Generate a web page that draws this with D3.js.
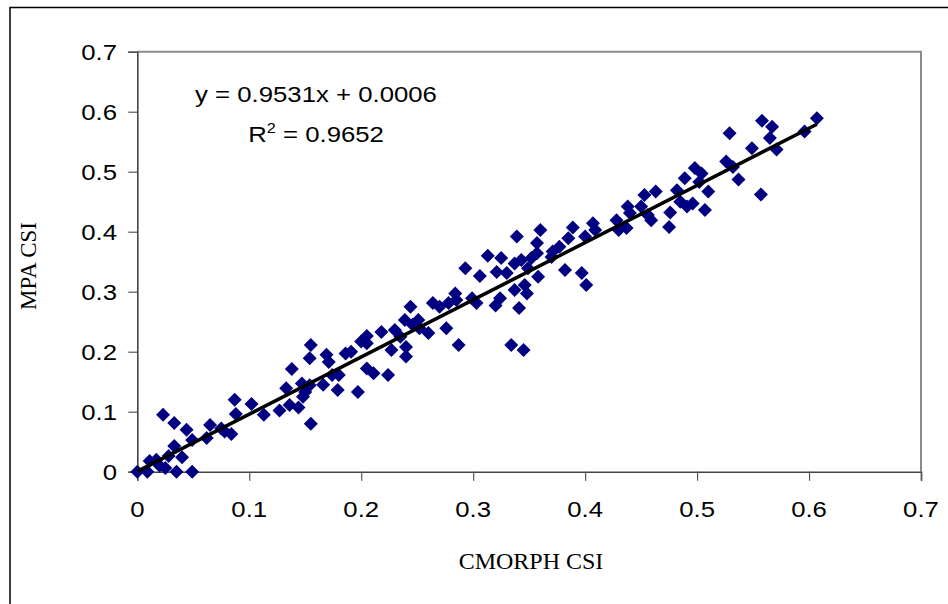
<!DOCTYPE html>
<html>
<head>
<meta charset="utf-8">
<script src="https://cdn.jsdelivr.net/npm/d3@7"></script>
<style>
  body { margin: 0; background: #fff; }
  svg { display: block; }
</style>
</head>
<body>
<svg id="chart" width="948" height="604"></svg>
<script>
// CSI pairs: CMORPH (x) against MPA (y)
const cmorphCsi = [
  0, 0.009, 0.011, 0.017, 0.023, 0.020, 0.025, 0.028, 0.033, 0.033, 0.035, 0.040, 0.044, 0.049, 0.049,
  0.062, 0.065, 0.075, 0.078, 0.084, 0.087, 0.088, 0.102,
  0.113, 0.127, 0.133, 0.136, 0.138, 0.144, 0.147, 0.148, 0.150, 0.154, 0.155, 0.154, 0.155, 0.166,
  0.169, 0.171, 0.174, 0.179, 0.180, 0.186, 0.191, 0.197, 0.200, 0.205, 0.205,
  0.205, 0.211, 0.218, 0.224, 0.227, 0.230, 0.235, 0.239, 0.240, 0.240, 0.244, 0.246, 0.251, 0.252,
  0.260, 0.264, 0.270, 0.276, 0.278, 0.284, 0.285, 0.287, 0.293, 0.299, 0.303, 0.306,
  0.313, 0.320, 0.321, 0.324, 0.325, 0.330, 0.334, 0.337, 0.337, 0.339, 0.341, 0.343, 0.345, 0.346,
  0.348, 0.349, 0.352, 0.357, 0.358, 0.357, 0.360, 0.370, 0.371, 0.377, 0.382, 0.385, 0.389, 0.397,
  0.401, 0.400,
  0.407, 0.409, 0.428, 0.430, 0.437, 0.438, 0.440, 0.450, 0.453, 0.456, 0.459, 0.463, 0.475, 0.476,
  0.482, 0.485, 0.489, 0.491, 0.496, 0.498, 0.504, 0.507, 0.510, 0.502,
  0.529, 0.526, 0.532, 0.537, 0.549, 0.557, 0.558, 0.567, 0.565, 0.571, 0.596, 0.607
];
const mpaCsi = [
  0, 0, 0.018, 0.020, 0.095, 0.010, 0.006, 0.026, 0.043, 0.081, 0, 0.024, 0.070, 0.053, 0,
  0.056, 0.078, 0.072, 0.067, 0.063, 0.120, 0.096, 0.113,
  0.095, 0.102, 0.139, 0.111, 0.171, 0.107, 0.147, 0.125, 0.133, 0.144, 0.211, 0.189, 0.080, 0.145,
  0.195, 0.183, 0.161, 0.136, 0.161, 0.197, 0.200, 0.133, 0.217, 0.226, 0.172,
  0.214, 0.164, 0.233, 0.161, 0.203, 0.236, 0.225, 0.253, 0.208, 0.192, 0.275, 0.245, 0.253, 0.239,
  0.231, 0.281, 0.275, 0.239, 0.281, 0.297, 0.286, 0.211, 0.339, 0.289, 0.281, 0.326,
  0.360, 0.277, 0.333, 0.289, 0.356, 0.331, 0.211, 0.303, 0.347, 0.392, 0.273, 0.353, 0.203, 0.311,
  0.297, 0.339, 0.356, 0.364, 0.325, 0.381, 0.403, 0.358, 0.367, 0.375, 0.336, 0.389, 0.407, 0.331,
  0.311, 0.392,
  0.414, 0.403, 0.419, 0.403, 0.406, 0.442, 0.431, 0.442, 0.461, 0.428, 0.419, 0.467, 0.408, 0.432,
  0.469, 0.450, 0.489, 0.442, 0.447, 0.506, 0.497, 0.436, 0.467, 0.483,
  0.564, 0.517, 0.508, 0.487, 0.539, 0.462, 0.585, 0.575, 0.556, 0.537, 0.567, 0.589
];

const xTicks = [0, 0.1, 0.2, 0.3, 0.4, 0.5, 0.6, 0.7];
const yTicks = [0, 0.1, 0.2, 0.3, 0.4, 0.5, 0.6, 0.7];
const tickLabels = ["0", "0.1", "0.2", "0.3", "0.4", "0.5", "0.6", "0.7"];

// Linear trend line shown on the chart
const fitSlope = 0.9531;
const fitIntercept = 0.0006;
const fitR2 = "0.9652";

const xTitle = "CMORPH CSI";
const yTitle = "MPA CSI";

const svg = d3.select("#chart");
const W = 948, H = 604;
const plot = { left: 137.3, right: 921, top: 51.7, bottom: 471.7 };
const stretch = 1.17; // horizontal widening of the sans-serif labels

svg.append("rect").attr("width", W).attr("height", H).attr("fill", "#fff");

// chart border (runs off the right and bottom edges)
svg.append("rect")
  .attr("x", 10).attr("y", 7.5).attr("width", 980).attr("height", 640)
  .attr("fill", "none").attr("stroke", "#000").attr("stroke-width", 1.5);

const x = d3.scaleLinear().domain([0, 0.7]).range([plot.left, plot.right]);
const y = d3.scaleLinear().domain([0, 0.7]).range([plot.bottom, plot.top]);

// plot area frame: top and right edges
svg.append("path")
  .attr("d", `M${plot.left},${plot.top}H${plot.right}V${plot.bottom}`)
  .attr("fill", "none").attr("stroke", "#8c8c8c").attr("stroke-width", 2);

// axes with outward ticks
const yAxis = d3.axisLeft(y).tickValues(yTicks).tickSize(9).tickFormat("");
const xAxis = d3.axisBottom(x).tickValues(xTicks).tickSize(9).tickFormat("");

const gy = svg.append("g").attr("transform", `translate(${plot.left},0)`).call(yAxis);
const gx = svg.append("g").attr("transform", `translate(0,${plot.bottom})`).call(xAxis);
[gx, gy].forEach(g => {
  g.select(".domain").attr("stroke", "#444").attr("stroke-width", 1.6);
  g.selectAll(".tick line").attr("stroke", "#555").attr("stroke-width", 1.2);
});

const labelFont = "'Liberation Sans', Arial, sans-serif";
const serifFont = "'Liberation Serif', 'Times New Roman', serif";

// y tick labels
svg.append("g").selectAll("text")
  .data(yTicks)
  .join("text")
  .attr("transform", (d) => `translate(117,${y(d) + 8}) scale(${stretch},1)`)
  .attr("text-anchor", "end")
  .attr("font-family", labelFont)
  .attr("font-size", 22)
  .attr("fill", "#000")
  .text((d, i) => tickLabels[i]);

// x tick labels
svg.append("g").selectAll("text")
  .data(xTicks)
  .join("text")
  .attr("transform", (d) => `translate(${x(d)},517) scale(${stretch},1)`)
  .attr("text-anchor", "middle")
  .attr("font-family", labelFont)
  .attr("font-size", 22)
  .attr("fill", "#000")
  .text((d, i) => tickLabels[i]);

// axis titles
svg.append("text")
  .attr("x", 531).attr("y", 569)
  .attr("text-anchor", "middle")
  .attr("font-family", serifFont)
  .attr("font-size", 24)
  .text(xTitle);

svg.append("text")
  .attr("transform", "translate(36,266) rotate(-90)")
  .attr("text-anchor", "middle")
  .attr("font-family", serifFont)
  .attr("font-size", 23)
  .text(yTitle);

// data points as navy diamonds
const pts = cmorphCsi.map((v, i) => [v, mpaCsi[i]]);
const r = 7;
svg.append("g").selectAll("path")
  .data(pts)
  .join("path")
  .attr("transform", d => `translate(${x(d[0])},${y(d[1])})`)
  .attr("d", `M0,${-r}L${r},0L0,${r}L${-r},0Z`)
  .attr("fill", "#000080");

// trend line over the data range
const xMax = d3.max(cmorphCsi);
const line = d3.line().x(d => x(d)).y(d => y(fitSlope * d + fitIntercept));
svg.append("path")
  .datum([0, xMax])
  .attr("d", line)
  .attr("fill", "none")
  .attr("stroke", "#000")
  .attr("stroke-width", 3.5);

// regression equation
const eq = svg.append("g");
eq.append("text")
  .attr("transform", `translate(316,101.5) scale(${stretch},1)`)
  .attr("text-anchor", "middle")
  .attr("font-family", labelFont)
  .attr("font-size", 22)
  .text(`y = ${fitSlope}x + ${fitIntercept.toFixed(4)}`);

const r2 = eq.append("text")
  .attr("transform", `translate(316,141.5) scale(${stretch},1)`)
  .attr("text-anchor", "middle")
  .attr("font-family", labelFont)
  .attr("font-size", 22);
r2.append("tspan").text("R");
r2.append("tspan").attr("dy", -9).attr("font-size", 14).text("2");
r2.append("tspan").attr("dy", 9).text(` = ${fitR2}`);
</script>
</body>
</html>
